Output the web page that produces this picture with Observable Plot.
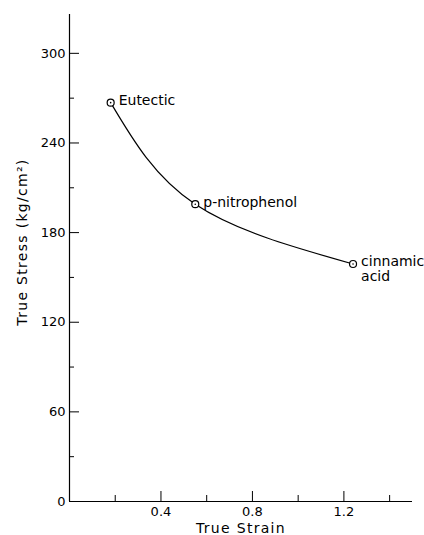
<!DOCTYPE html>
<html><head><meta charset="utf-8">
<script src="https://cdn.jsdelivr.net/npm/d3@7"></script>
<script src="https://cdn.jsdelivr.net/npm/@observablehq/plot@0.6"></script>
<style>
body{margin:0;background:#fff}
svg g[aria-label$="tick label"] text{font-size:13px !important}
</style>
</head><body><div id="chart"></div>
<script>
const materials = ["Eutectic", "p-nitrophenol", "cinnamic\nacid"];
const strain = [0.18, 0.55, 1.24];
const stress = [267, 199, 159];
const yMajor = [0, 60, 120, 180, 240, 300];
const yMinor = [30, 90, 150, 210, 270];
const xMajor = [0.4, 0.8, 1.2];
const xMinor = [0.2, 0.6, 1.0, 1.4];
const xLabel = "True Strain";
const yLabel = "True Stress (kg/cm²)";

const data = materials.map((m, i) => ({m, x: strain[i], y: stress[i]}));

const plot = Plot.plot({
  width: 424, height: 535,
  marginLeft: 69, marginRight: 12, marginTop: 14, marginBottom: 34,
  style: {fontFamily: "DejaVu Sans", fontSize: "13px", background: "#fff", color: "#000"},
  x: {domain: [0, 1.5]},
  y: {domain: [0, 326]},
  marks: [
    Plot.ruleX([0], {strokeWidth: 1.2}),
    Plot.ruleY([0], {strokeWidth: 1.2}),
    Plot.axisY({ticks: yMajor, tickSize: 10, dx: 10, tickPadding: 4, label: null, fontSize: 13, tickFormat: d => String(d)}),
    Plot.axisY({ticks: yMinor, tickSize: 5, dx: 5, tickFormat: () => "", label: null}),
    Plot.axisX({ticks: xMajor, tickSize: 10, dy: -10, tickPadding: 5, label: null, fontSize: 13, tickFormat: d => d.toFixed(1)}),
    Plot.axisX({ticks: xMinor, tickSize: 6, dy: -6, tickFormat: () => "", label: null}),
    Plot.line(data, {x: "x", y: "y", curve: "natural", strokeWidth: 1.2}),
    Plot.dot(data, {x: "x", y: "y", r: 3.5, stroke: "black", fill: "white", strokeWidth: 1.2}),
    Plot.dot(data, {x: "x", y: "y", r: 0.8, fill: "black"}),
    Plot.text(data, {x: "x", y: "y", text: "m", textAnchor: "start", lineAnchor: "top", dx: 8, dy: -8, lineHeight: 1.05, fontSize: 14}),
    Plot.text([yLabel], {text: d => d, frameAnchor: "left", textAnchor: "middle", lineAnchor: "middle", rotate: -90, dx: -47, dy: -16, fontSize: 14}),
    Plot.text([xLabel], {text: d => d, frameAnchor: "bottom", textAnchor: "middle", dy: 31, fontSize: 14})
  ]
});
d3.select(plot).selectAll("text")
  .filter(function() { return this.textContent === xLabel || this.textContent === yLabel; })
  .attr("letter-spacing", "1.3px");
document.getElementById("chart").appendChild(plot);
</script>
</body></html>
